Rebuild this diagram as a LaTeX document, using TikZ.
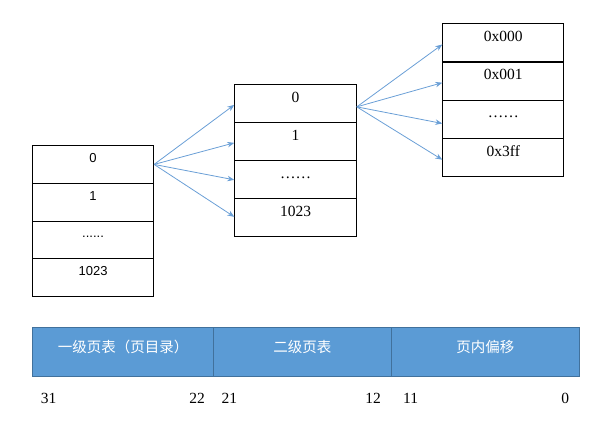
\documentclass[tikz,border=0pt]{standalone}
\usepackage{fontspec}
\setmainfont{Liberation Serif}
\newfontfamily\sansf{Liberation Sans}
\newfontfamily\cjk{Noto Sans CJK SC}
\usetikzlibrary{arrows.meta}
\definecolor{barblue}{HTML}{5B9BD5}
\definecolor{barline}{HTML}{41719C}
\definecolor{arrblue}{HTML}{6A9FD6}
\tikzset{
  cellL/.style={draw=black, line width=1.1pt, anchor=north west, inner xsep=0pt, inner ysep=0pt,
    minimum width=121pt, minimum height=37.75pt, text height=16.7pt, text depth=21.05pt,
    font=\sansf\fontsize{13}{13}\selectfont},
  cellM/.style={draw=black, line width=1.1pt, anchor=north west, inner xsep=0pt, inner ysep=0pt,
    minimum width=121.4pt, minimum height=38pt, text height=17.5pt, text depth=20.5pt,
    font=\fontsize{15.5}{15.5}\selectfont},
  cellR/.style={draw=black, line width=1.1pt, anchor=north west, inner xsep=0pt, inner ysep=0pt,
    minimum width=121pt, minimum height=38.25pt, text height=17.6pt, text depth=20.65pt,
    font=\fontsize{15.5}{15.5}\selectfont},
  barcell/.style={draw=barline, fill=barblue, line width=0.8pt, anchor=north west, inner xsep=0pt, inner ysep=0pt,
    minimum height=48.4pt, text height=25pt, text depth=23.4pt, text=white,
    font=\cjk\fontsize{14.5}{14.5}\selectfont},
  bitnum/.style={anchor=base, inner sep=0pt, font=\fontsize{15.5}{15.5}\selectfont},
  ptr/.style={draw=arrblue, line width=0.8pt, -{Stealth[length=7pt,width=5.5pt]}}
}
\begin{document}
\begin{tikzpicture}[x=1pt,y=-1pt]
\useasboundingbox (0,0) rectangle (609,422);
% left table (page directory)
\node[cellL] (l0) at (32,145) {0};
\node[cellL] (l1) at (32,182.75) {1};
\node[cellL] (l2) at (32,220.5) {......};
\node[cellL] (l3) at (32,258.25) {1023};
% middle table
\node[cellM] (m0) at (234.3,84.3) {0};
\node[cellM] (m1) at (234.3,122.3) {1};
\node[cellM] (m2) at (234.3,160.3) {……};
\node[cellM] (m3) at (234.3,198.3) {1023};
% right table
\node[cellR] (r0) at (442.3,23.3) {0x000};
\node[cellR] (r1) at (442.3,61.55) {0x001};
\node[cellR] (r2) at (442.3,99.8) {……};
\node[cellR] (r3) at (442.3,138.05) {0x3ff};
\draw[line width=2pt] (r1.north west) -- (r1.north east);
% arrows
\draw[ptr] (l0.east) -- ([yshift=-1pt]m0.west);
\draw[ptr] (l0.east) -- ([yshift=-1pt]m1.west);
\draw[ptr] (l0.east) -- ([yshift=0pt]m2.west);
\draw[ptr] (l0.east) -- ([yshift=1pt]m3.west);
\draw[ptr] ([yshift=-3pt]m0.east) -- ([yshift=-1.5pt]r0.west);
\draw[ptr] ([yshift=-3pt]m0.east) -- ([yshift=-1.5pt]r1.west);
\draw[ptr] ([yshift=-3pt]m0.east) -- ([yshift=-4pt]r2.west);
\draw[ptr] ([yshift=-3pt]m0.east) -- ([yshift=-2pt]r3.west);
% address bar
\node[barcell, minimum width=181pt] (b1) at (32.3,327.3) {一级页表（页目录）};
\node[barcell, minimum width=177.4pt] (b2) at (213.3,327.3) {二级页表};
\node[barcell, minimum width=188.6pt] (b3) at (390.7,327.3) {页内偏移};
% bit numbers
\node[bitnum, anchor=base west] (n31) at (40.7,403) {31};
\node[bitnum, anchor=base east] (n22) at (205,403) {22};
\node[bitnum, anchor=base west] (n21) at (221.5,403) {21};
\node[bitnum, anchor=base east] (n12) at (381,403) {12};
\node[bitnum, anchor=base west] (n11) at (403,403) {11};
\node[bitnum, anchor=base east] (n0) at (569.3,403) {0};
\end{tikzpicture}
\end{document}
